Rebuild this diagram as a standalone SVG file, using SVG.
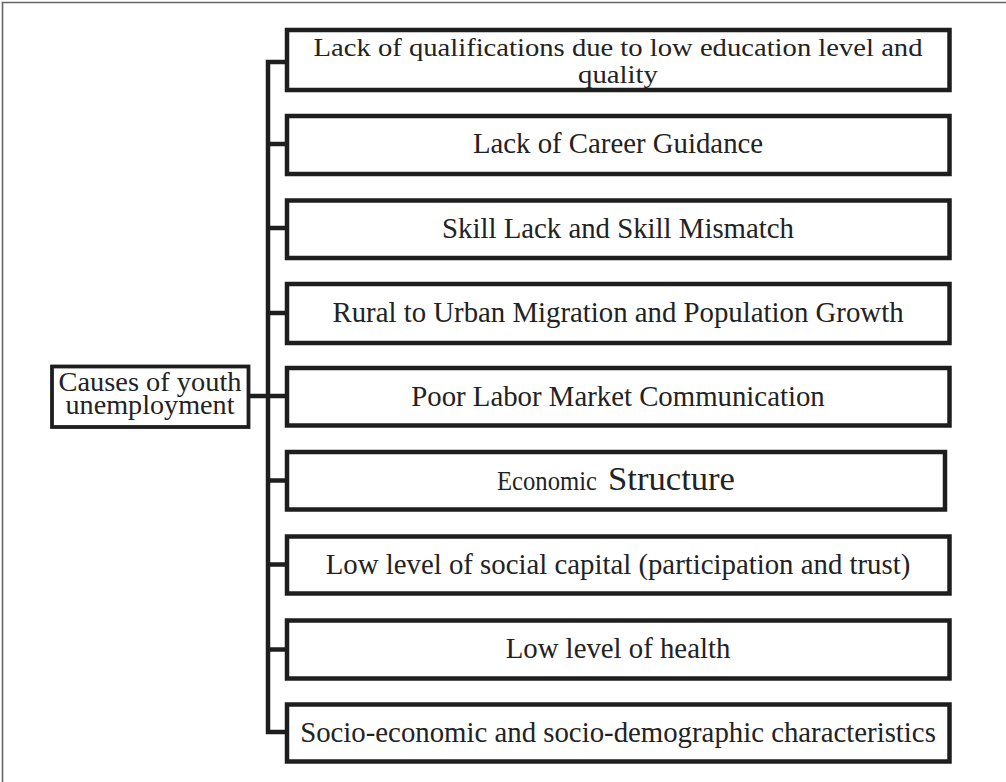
<svg xmlns="http://www.w3.org/2000/svg" width="1006" height="782" viewBox="0 0 1006 782">
<defs>
<style>
.frame{fill:none;stroke:#666;stroke-width:1.6}
.box{fill:#fff;stroke:#1e1e1e;stroke-width:4.5}
.root{fill:#fff;stroke:#1e1e1e;stroke-width:3.8}
.conn{fill:none;stroke:#1e1e1e;stroke-width:4.5;stroke-linejoin:miter}
.t{font-family:"Liberation Serif","Times New Roman",serif;font-size:28.8px;fill:#222;text-anchor:middle}
.rt{font-family:"Liberation Serif","Times New Roman",serif;font-size:27px;fill:#222;text-anchor:middle}
</style>
</defs>
<rect width="1006" height="782" fill="#fff"/>
<path class="frame" d="M2.5,782 V2.5 H1006"/>
<g id="connectors">
<path class="conn" d="M287,62 H268 V732 H287"/>
<path class="conn" d="M268,144 H287 M268,228 H287 M268,313 H287 M248.5,396 H287 M268,480.5 H287 M268,564.5 H287 M268,649.5 H287"/>
</g>
<g id="root">
<rect class="root" x="52" y="366.5" width="196.5" height="60.5"/>
<text class="rt" x="150" y="390.5" textLength="183" lengthAdjust="spacingAndGlyphs">Causes of youth</text>
<text class="rt" x="150" y="413.5" textLength="169" lengthAdjust="spacingAndGlyphs">unemployment</text>
</g>
<g id="n1">
<rect class="box" x="287" y="30" width="662.5" height="60"/>
<text class="t" x="618" y="55.5" style="font-size:25.5px" textLength="609" lengthAdjust="spacingAndGlyphs">Lack of qualifications due to low education level and</text>
<text class="t" x="618" y="82.5" style="font-size:25.5px" textLength="80" lengthAdjust="spacingAndGlyphs">quality</text>
</g>
<g id="n2">
<rect class="box" x="287" y="116" width="662.5" height="58"/>
<text class="t" x="618" y="153">Lack of Career Guidance</text>
</g>
<g id="n3">
<rect class="box" x="287" y="200.5" width="662.5" height="57.5"/>
<text class="t" x="618" y="237.5">Skill Lack and Skill Mismatch</text>
</g>
<g id="n4">
<rect class="box" x="287" y="284" width="662.5" height="59"/>
<text class="t" x="618" y="321.5">Rural to Urban Migration and Population Growth</text>
</g>
<g id="n5">
<rect class="box" x="287" y="368" width="662.5" height="57.5"/>
<text class="t" x="618" y="405.5">Poor Labor Market Communication</text>
</g>
<g id="n6">
<rect class="box" x="287" y="452" width="658" height="57.5"/>
<text style="font-family:'Liberation Serif','Times New Roman',serif;fill:#222" y="490"><tspan x="497" font-size="27.5" textLength="100" lengthAdjust="spacingAndGlyphs">Economic</tspan><tspan x="608" font-size="33" textLength="127" lengthAdjust="spacingAndGlyphs">Structure</tspan></text>
</g>
<g id="n7">
<rect class="box" x="287" y="536.5" width="662.5" height="57"/>
<text class="t" x="618" y="573.5">Low level of social capital (participation and trust)</text>
</g>
<g id="n8">
<rect class="box" x="287" y="620.5" width="662.5" height="58"/>
<text class="t" x="618" y="658">Low level of health</text>
</g>
<g id="n9">
<rect class="box" x="287" y="704.5" width="662.5" height="57"/>
<text class="t" x="618" y="742">Socio-economic and socio-demographic characteristics</text>
</g>
</svg>
